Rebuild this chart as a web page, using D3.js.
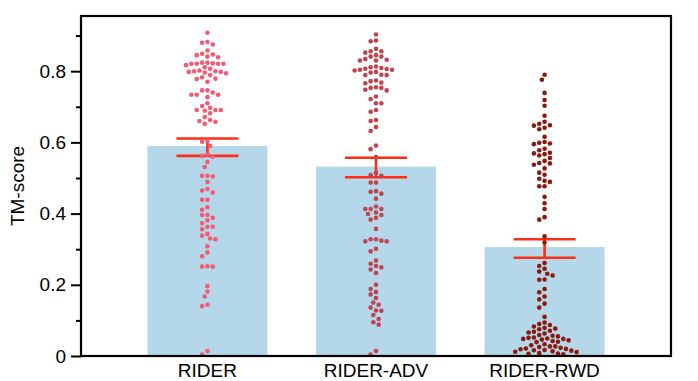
<!DOCTYPE html>
<html>
<head>
<meta charset="utf-8">
<script src="https://cdn.jsdelivr.net/npm/d3@7"></script>
<style>
	body { margin: 0; background: #fff; }
	text { font-family: "Liberation Sans", Arial, Helvetica, sans-serif; }
</style>
</head>
<body>
<svg width="698" height="381"></svg>
<script>
// groups on the x axis
var categories = ['RIDER', 'RIDER-ADV', 'RIDER-RWD'];

// bar heights (mean) and error bar ends
var means = [0.590, 0.532, 0.306];
var errLow = [0.562, 0.502, 0.276];
var errHigh = [0.611, 0.557, 0.328];

// individual TM-scores
var riderScores = [0.908, 0.882, 0.880, 0.875, 0.858, 0.849, 0.847, 0.845, 0.841, 0.839, 0.824, 0.824, 0.822, 0.821, 0.821, 0.821, 0.821, 0.817,
	0.811, 0.807, 0.802, 0.800, 0.800, 0.798, 0.798, 0.796, 0.794, 0.789, 0.783, 0.779, 0.778, 0.770, 0.746, 0.746, 0.740, 0.734, 0.734, 0.734,
	0.727, 0.710, 0.702, 0.697, 0.691, 0.691, 0.691, 0.689, 0.682, 0.671, 0.663, 0.660, 0.658, 0.652, 0.604, 0.602, 0.590, 0.566, 0.562, 0.560,
	0.545, 0.531, 0.506, 0.506, 0.504, 0.489, 0.469, 0.465, 0.459, 0.439, 0.439, 0.418, 0.411, 0.396, 0.396, 0.388, 0.381, 0.373, 0.363, 0.363,
	0.356, 0.343, 0.338, 0.330, 0.328, 0.308, 0.291, 0.280, 0.252, 0.251, 0.251, 0.196, 0.181, 0.167, 0.144, 0.140, 0.014, 0.004];

var advScores = [0.903, 0.886, 0.884, 0.863, 0.856, 0.856, 0.852, 0.845, 0.841, 0.841, 0.834, 0.832, 0.830, 0.830, 0.813, 0.811, 0.809, 0.807,
	0.806, 0.804, 0.804, 0.802, 0.798, 0.796, 0.790, 0.789, 0.789, 0.774, 0.772, 0.768, 0.766, 0.755, 0.753, 0.753, 0.748, 0.746, 0.729, 0.722,
	0.710, 0.710, 0.691, 0.686, 0.663, 0.660, 0.643, 0.632, 0.591, 0.581, 0.559, 0.514, 0.508, 0.506, 0.487, 0.487, 0.463, 0.461, 0.456, 0.442,
	0.420, 0.413, 0.413, 0.413, 0.403, 0.399, 0.396, 0.388, 0.383, 0.357, 0.328, 0.328, 0.324, 0.322, 0.322, 0.301, 0.294, 0.268, 0.259, 0.253,
	0.249, 0.243, 0.233, 0.200, 0.188, 0.180, 0.173, 0.163, 0.150, 0.144, 0.136, 0.128, 0.127, 0.115, 0.104, 0.095, 0.088, 0.014, 0.004];

var rwdScores = [0.790, 0.776, 0.739, 0.719, 0.703, 0.675, 0.658, 0.652, 0.648, 0.647, 0.641, 0.637, 0.616, 0.601, 0.599, 0.597, 0.595, 0.582,
	0.578, 0.571, 0.569, 0.567, 0.563, 0.556, 0.548, 0.542, 0.541, 0.537, 0.527, 0.515, 0.509, 0.498, 0.492, 0.489, 0.477, 0.477, 0.447, 0.429,
	0.413, 0.390, 0.383, 0.336, 0.319, 0.261, 0.253, 0.245, 0.237, 0.231, 0.226, 0.215, 0.214, 0.188, 0.179, 0.167, 0.159, 0.147, 0.136, 0.110,
	0.094, 0.090, 0.087, 0.083, 0.079, 0.077, 0.075, 0.071, 0.068, 0.066, 0.063, 0.059, 0.057, 0.055, 0.052, 0.051, 0.049, 0.048, 0.048, 0.046,
	0.044, 0.042, 0.040, 0.039, 0.033, 0.030, 0.027, 0.027, 0.025, 0.023, 0.021, 0.020, 0.019, 0.017, 0.016, 0.015, 0.013, 0.012, 0.011, 0.008,
	0.007, 0.006, 0.005];

var majorTicks = [0, 0.2, 0.4, 0.6, 0.8];
var minorTicks = [0.1, 0.3, 0.5, 0.7, 0.9];

var pointColors = ['#f45a72', '#c1434d', '#8c1a0c'];
var barColor = '#b4d7e9';
var errColor = '#ff2d14';

var svg = d3.select("svg");
var plotLeft = 81, plotRight = 671, plotTop = 16, plotBottom = 356;

var x = d3.scalePoint()
	.domain(categories)
	.range([plotLeft, plotRight])
	.padding(0.75);

var y = d3.scaleLinear()
	.domain([0, 0.955])
	.range([plotBottom, plotTop]);

var barWidth = x.step() * 0.712;
var capHalf = 31;
var groups = [riderScores, advScores, rwdScores];

//bars
svg.append("g")
	.selectAll("rect")
	.data(categories)
	.enter().append("rect")
		.attr("x", function(d) { return x(d) - barWidth / 2; })
		.attr("width", barWidth)
		.attr("y", function(d, i) { return y(means[i]); })
		.attr("height", function(d, i) { return y(0) - y(means[i]); })
		.attr("fill", barColor);

//error bars
var err = svg.append("g")
	.attr("stroke", errColor)
	.attr("stroke-width", 2.6);

categories.forEach(function(c, i) {
	var cx = x(c);
	err.append("line")
		.attr("x1", cx).attr("x2", cx)
		.attr("y1", y(errHigh[i])).attr("y2", y(errLow[i]));
	[errHigh[i], errLow[i]].forEach(function(v) {
		err.append("line")
			.attr("x1", cx - capHalf).attr("x2", cx + capHalf)
			.attr("y1", y(v)).attr("y2", y(v));
	});
});

//swarm of points, simple greedy placement
function swarm(values, cx) {
	var placed = [];
	var step = 2.67, minDist = 5.3;
	var sorted = values.slice().sort(function(a, b) { return b - a; });
	sorted.forEach(function(v) {
		var py = y(v);
		for (var k = 0; k < 40; k++) {
			var off = (k % 2 == 0 ? 1 : -1) * Math.ceil(k / 2) * step;
			var px = cx + off;
			var hit = placed.some(function(p) {
				var dx = p.x - px, dy = p.y - py;
				return dx * dx + dy * dy < minDist * minDist;
			});
			if (!hit) {
				placed.push({ x: px, y: py, v: v });
				break;
			}
		}
	});
	return placed;
}

groups.forEach(function(vals, i) {
	svg.append("g")
		.selectAll("circle")
		.data(swarm(vals, x(categories[i])))
		.enter().append("circle")
			.attr("cx", function(d) { return d.x; })
			.attr("cy", function(d) { return d.y; })
			.attr("r", 2.3)
			.attr("fill", pointColors[i]);
});

//frame
svg.append("rect")
	.attr("x", plotLeft).attr("y", plotTop)
	.attr("width", plotRight - plotLeft).attr("height", plotBottom - plotTop)
	.attr("fill", "none")
	.attr("stroke", "#000")
	.attr("stroke-width", 2.2);

//y axis
var yAxis = svg.append("g")
	.attr("transform", "translate(" + plotLeft + ",0)")
	.call(d3.axisLeft(y).tickValues(majorTicks).tickSize(10).tickPadding(5).tickFormat(d3.format("~g")));

svg.append("g")
	.attr("transform", "translate(" + plotLeft + ",0)")
	.call(d3.axisLeft(y).tickValues(minorTicks).tickSize(5).tickFormat(""))
	.select(".domain").remove();

yAxis.select(".domain").remove();
svg.selectAll(".tick line").attr("stroke", "#000").attr("stroke-width", 2);
yAxis.selectAll("text")
	.attr("font-size", "19px")
	.attr("fill", "#000");

//x labels
svg.append("g")
	.selectAll("text")
	.data(categories)
	.enter().append("text")
		.attr("x", function(d) { return x(d); })
		.attr("y", 377)
		.attr("text-anchor", "middle")
		.attr("font-size", "19px")
		.text(function(d) { return d; });

svg.append("text")
	.attr("transform", "translate(24," + (plotTop + plotBottom) / 2 + ") rotate(-90)")
	.attr("text-anchor", "middle")
	.attr("font-size", "19px")
	.text("TM-score");
</script>
</body>
</html>
